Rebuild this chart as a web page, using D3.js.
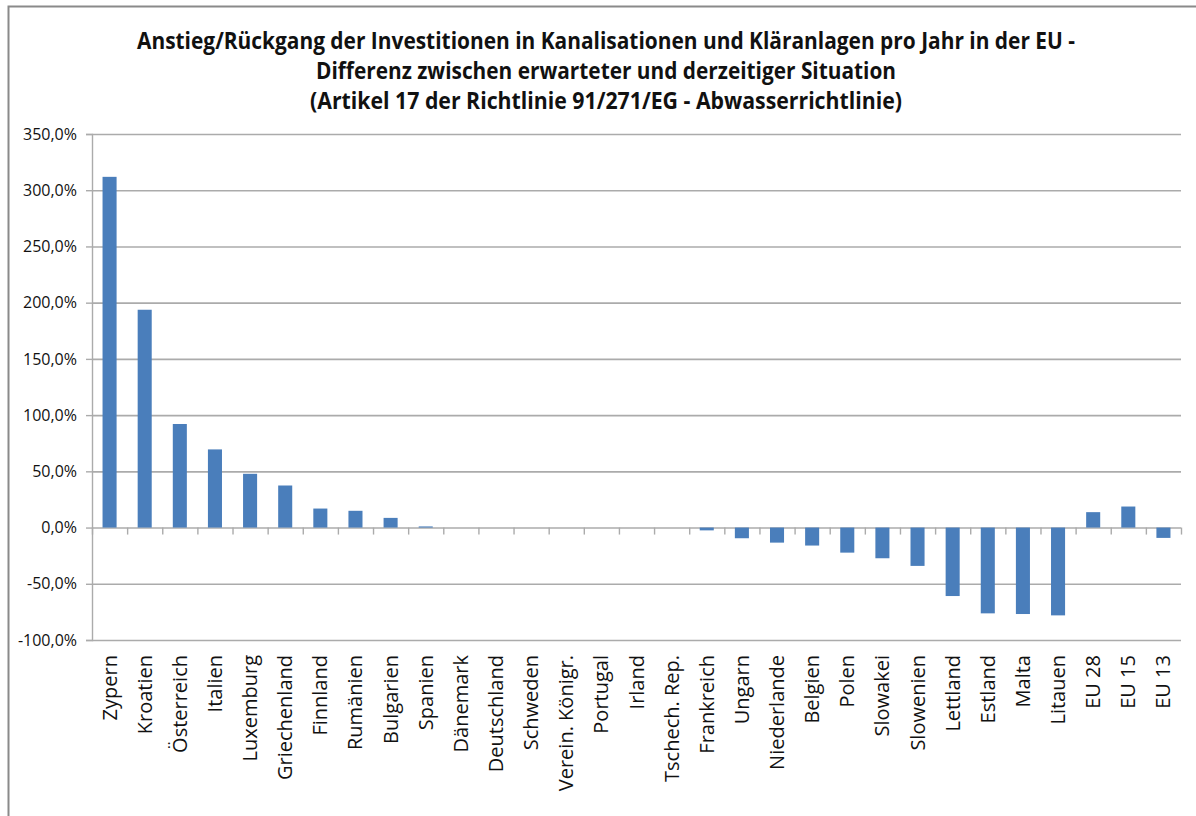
<!DOCTYPE html>
<html>
<head>
<meta charset="utf-8">
<script src="https://cdn.jsdelivr.net/npm/d3@7"></script>
<style>
    body { margin: 0; background: #fff; }
    .label { font-family: "Open Sans", sans-serif; fill: #111; }
</style>
</head>
<body>
<div id="chart"></div>
<script>
// data
let countries = ["Zypern", "Kroatien", "Österreich", "Italien", "Luxemburg", "Griechenland",
    "Finnland", "Rumänien", "Bulgarien", "Spanien", "Dänemark", "Deutschland", "Schweden",
    "Verein. Königr.", "Portugal", "Irland", "Tschech. Rep.", "Frankreich", "Ungarn",
    "Niederlande", "Belgien", "Polen", "Slowakei", "Slowenien", "Lettland", "Estland",
    "Malta", "Litauen", "EU 28", "EU 15", "EU 13"];
let change = [311.9, 193.7, 92.1, 69.5, 47.8, 37.4, 16.9, 14.9, 8.6, 1.0, 0, 0, 0,
    0, 0, 0, 0, -2.5, -9.5, -13.4, -16.0, -22.3, -27.3, -34.1, -60.9, -76.3,
    -76.9, -78.1, 13.7, 18.7, -9.2];
let yTicks = [-100, -50, 0, 50, 100, 150, 200, 250, 300, 350];
let titleLines = [
    "Anstieg/Rückgang der Investitionen in Kanalisationen und Kläranlagen pro Jahr in der EU -",
    "Differenz zwischen erwarteter und derzeitiger Situation",
    "(Artikel 17 der Richtlinie 91/271/EG - Abwasserrichtlinie)"
];

let W = 1196, H = 816;
let plot = {left: 92, right: 1181, top: 134, bottom: 640};

let svg = d3.select("#chart")
    .append("svg")
        .attr("width", W)
        .attr("height", H);

// chart frame
svg.append("path")
    .attr("d", `M8.5,${H + 5} V6.5 H${W + 5}`)
    .attr("fill", "none")
    .attr("stroke", "#8a8a8a")
    .attr("stroke-width", 2);

// title
let titleWidths = [938, 580, 592];
svg.append("g")
    .selectAll("text")
    .data(titleLines)
    .enter()
    .append("text")
        .attr("class", "label")
        .attr("x", 606)
        .attr("y", (d, i) => 49 + i * 30)
        .attr("text-anchor", "middle")
        .attr("textLength", (d, i) => titleWidths[i])
        .attr("lengthAdjust", "spacingAndGlyphs")
        .style("font-family", "'Liberation Sans Narrow', 'Open Sans', sans-serif")
        .style("font-weight", "bold")
        .style("font-size", "23px")
        .text(d => d);

let x = d3.scaleBand()
    .domain(countries)
    .range([plot.left, plot.right])
    .padding(0);

let y = d3.scaleLinear()
    .domain([-100, 350])
    .range([plot.bottom, plot.top]);

// gridlines
svg.append("g")
    .attr("transform", `translate(${plot.left},0)`)
    .call(d3.axisLeft(y).tickValues(yTicks).tickSize(-(plot.right - plot.left)).tickFormat(""))
    .call(g => g.select(".domain").remove())
    .call(g => g.selectAll("line").attr("stroke", "#ababab").attr("stroke-width", 1.6));

// y axis
svg.append("g")
    .attr("transform", `translate(${plot.left},0)`)
    .call(d3.axisLeft(y).tickValues(yTicks).tickSize(6).tickPadding(9)
        .tickFormat(d => d.toFixed(1).replace(".", ",") + "%"))
    .call(g => g.select(".domain").attr("stroke", "#ababab").attr("stroke-width", 1.4))
    .call(g => g.selectAll("line").attr("stroke", "#ababab").attr("stroke-width", 1.4))
    .call(g => g.selectAll("text")
        .attr("class", "label")
        .style("font-size", "16px"));

// bars
svg.append("g")
    .selectAll("rect")
    .data(change)
    .enter()
    .append("rect")
        .attr("x", (d, i) => x(countries[i]) + x.bandwidth() * 0.3)
        .attr("width", x.bandwidth() * 0.4)
        .attr("y", d => y(Math.max(0, d)))
        .attr("height", d => Math.abs(y(d) - y(0)))
        .attr("fill", "#4a7ebb");

// x axis ticks at band edges, on the zero line
let edges = d3.scaleLinear().domain([0, countries.length]).range([plot.left, plot.right]);
svg.append("g")
    .attr("transform", `translate(0,${y(0)})`)
    .call(d3.axisBottom(edges).tickValues(d3.range(0, countries.length + 1)).tickSize(7).tickFormat(""))
    .call(g => g.select(".domain").remove())
    .call(g => g.selectAll("line").attr("stroke", "#ababab").attr("stroke-width", 1.4));

// category labels below plot
svg.append("g")
    .selectAll("text")
    .data(countries)
    .enter()
    .append("text")
        .attr("class", "label")
        .attr("transform", d => `translate(${x(d) + x.bandwidth() / 2},${plot.bottom + 15}) rotate(-90)`)
        .attr("text-anchor", "end")
        .attr("dy", "0.35em")
        .style("font-size", "20px")
        .text(d => d);
</script>
</body>
</html>
